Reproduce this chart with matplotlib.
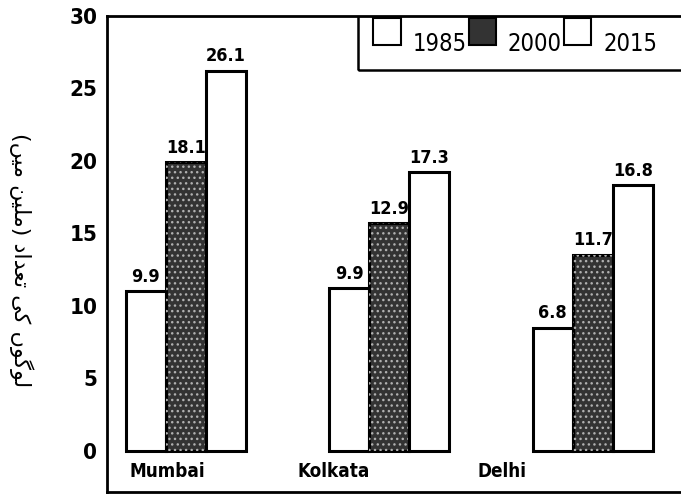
import numpy as np
import matplotlib.pyplot as plt
from matplotlib.patches import Patch, Rectangle
from matplotlib.legend_handler import HandlerPatch

cities = ["Mumbai", "Kolkata", "Delhi"]
years = ["1985", "2000", "2015"]
# printed values above the bars
labels_1985 = ["9.9", "9.9", "6.8"]
labels_2000 = ["18.1", "12.9", "11.7"]
labels_2015 = ["26.1", "17.3", "16.8"]
# bar heights as drawn (the source drawing doesn't match its own labels)
heights_1985 = [11.0, 11.2, 8.5]
heights_2000 = [19.9, 15.7, 13.5]
heights_2015 = [26.2, 19.2, 18.3]
yticks = [0, 5, 10, 15, 20, 25, 30]
# Urdu axis title, written in visual order with presentation forms
ylabel = "(\ufb9f\ufbff\ufee3 \ufee6\ufbff\ufee0\ufee3) \ufea9\ufe8d\ufeaa\ufecc\ufe97 \ufbfd\ufb90 \ufb9e\ufeee\ufb94\ufeee\ufedf"

plt.rcParams["font.family"] = ["DejaVu Sans"]
plt.rcParams["font.stretch"] = "condensed"

fig = plt.figure(figsize=(6.81, 4.95), dpi=100)
ax = fig.add_axes([0.157, 0.006, 0.856, 0.962])

x = np.arange(len(cities))
w = 0.197
dark = "#333333"

b1 = ax.bar(x - w, heights_1985, w, color="white", edgecolor="black", linewidth=2.2)
b2 = ax.bar(x, heights_2000, w, color=dark, edgecolor="black", linewidth=2.2)
ax.bar(x, heights_2000, w, fill=False, hatch="...", edgecolor="#b0b0b0", linewidth=0)
b3 = ax.bar(x + w, heights_2015, w, color="white", edgecolor="black", linewidth=2.2)

for bars, labs in [(b1, labels_1985), (b2, labels_2000), (b3, labels_2015)]:
    for rect, lab in zip(bars, labs):
        ax.annotate(lab, (rect.get_x() + rect.get_width() / 2, rect.get_height()),
                    xytext=(0, 4), textcoords="offset points", ha="center", va="bottom",
                    fontsize=13, fontweight="bold")

# city names sit inside the frame, below the zero line
name_x = [-0.09, 0.727, 1.553]
for nx, c in zip(name_x, cities):
    ax.text(nx, -1.45, c, ha="center", va="center", fontsize=13.5, fontweight="bold")

ax.set_xlim(-0.388, 2.477)
ax.set_ylim(-2.85, 30)
ax.set_yticks(yticks)
ax.set_yticklabels([str(t) for t in yticks], fontsize=16, fontweight="bold")
ax.tick_params(axis="y", length=0, pad=7)
ax.set_xticks([])
for s in ax.spines.values():
    s.set_linewidth(2)


def raised_box(legend, orig_handle, xdescent, ydescent, width, height, fontsize):
    return Rectangle((-xdescent, -ydescent + 0.45 * height), width, height)


handles = [Patch(facecolor="white", edgecolor="black", linewidth=1.5),
           Patch(facecolor=dark, edgecolor="black", linewidth=1.5),
           Patch(facecolor="white", edgecolor="black", linewidth=1.5)]
leg = ax.legend(handles, years, ncol=3, loc="upper left", bbox_to_anchor=(0.445, 0.985),
                borderaxespad=0, frameon=False,
                handlelength=1.15, handleheight=1.35, handletextpad=0.5, columnspacing=0.1,
                borderpad=0.3, prop={"size": 17, "stretch": "condensed"},
                handler_map={Patch: HandlerPatch(patch_func=raised_box)})
# legend box runs off the right edge like in the scan
ax.add_patch(Rectangle((0.4305, 0.8866), 0.6, 0.2, transform=ax.transAxes,
                       fill=False, edgecolor="black", linewidth=1.8, clip_on=True))

fig.text(0.032, 0.475, ylabel, rotation=270, ha="center", va="center",
         fontsize=16, family="DejaVu Sans", fontstretch="normal")

fig.savefig("out.png", dpi=100)
